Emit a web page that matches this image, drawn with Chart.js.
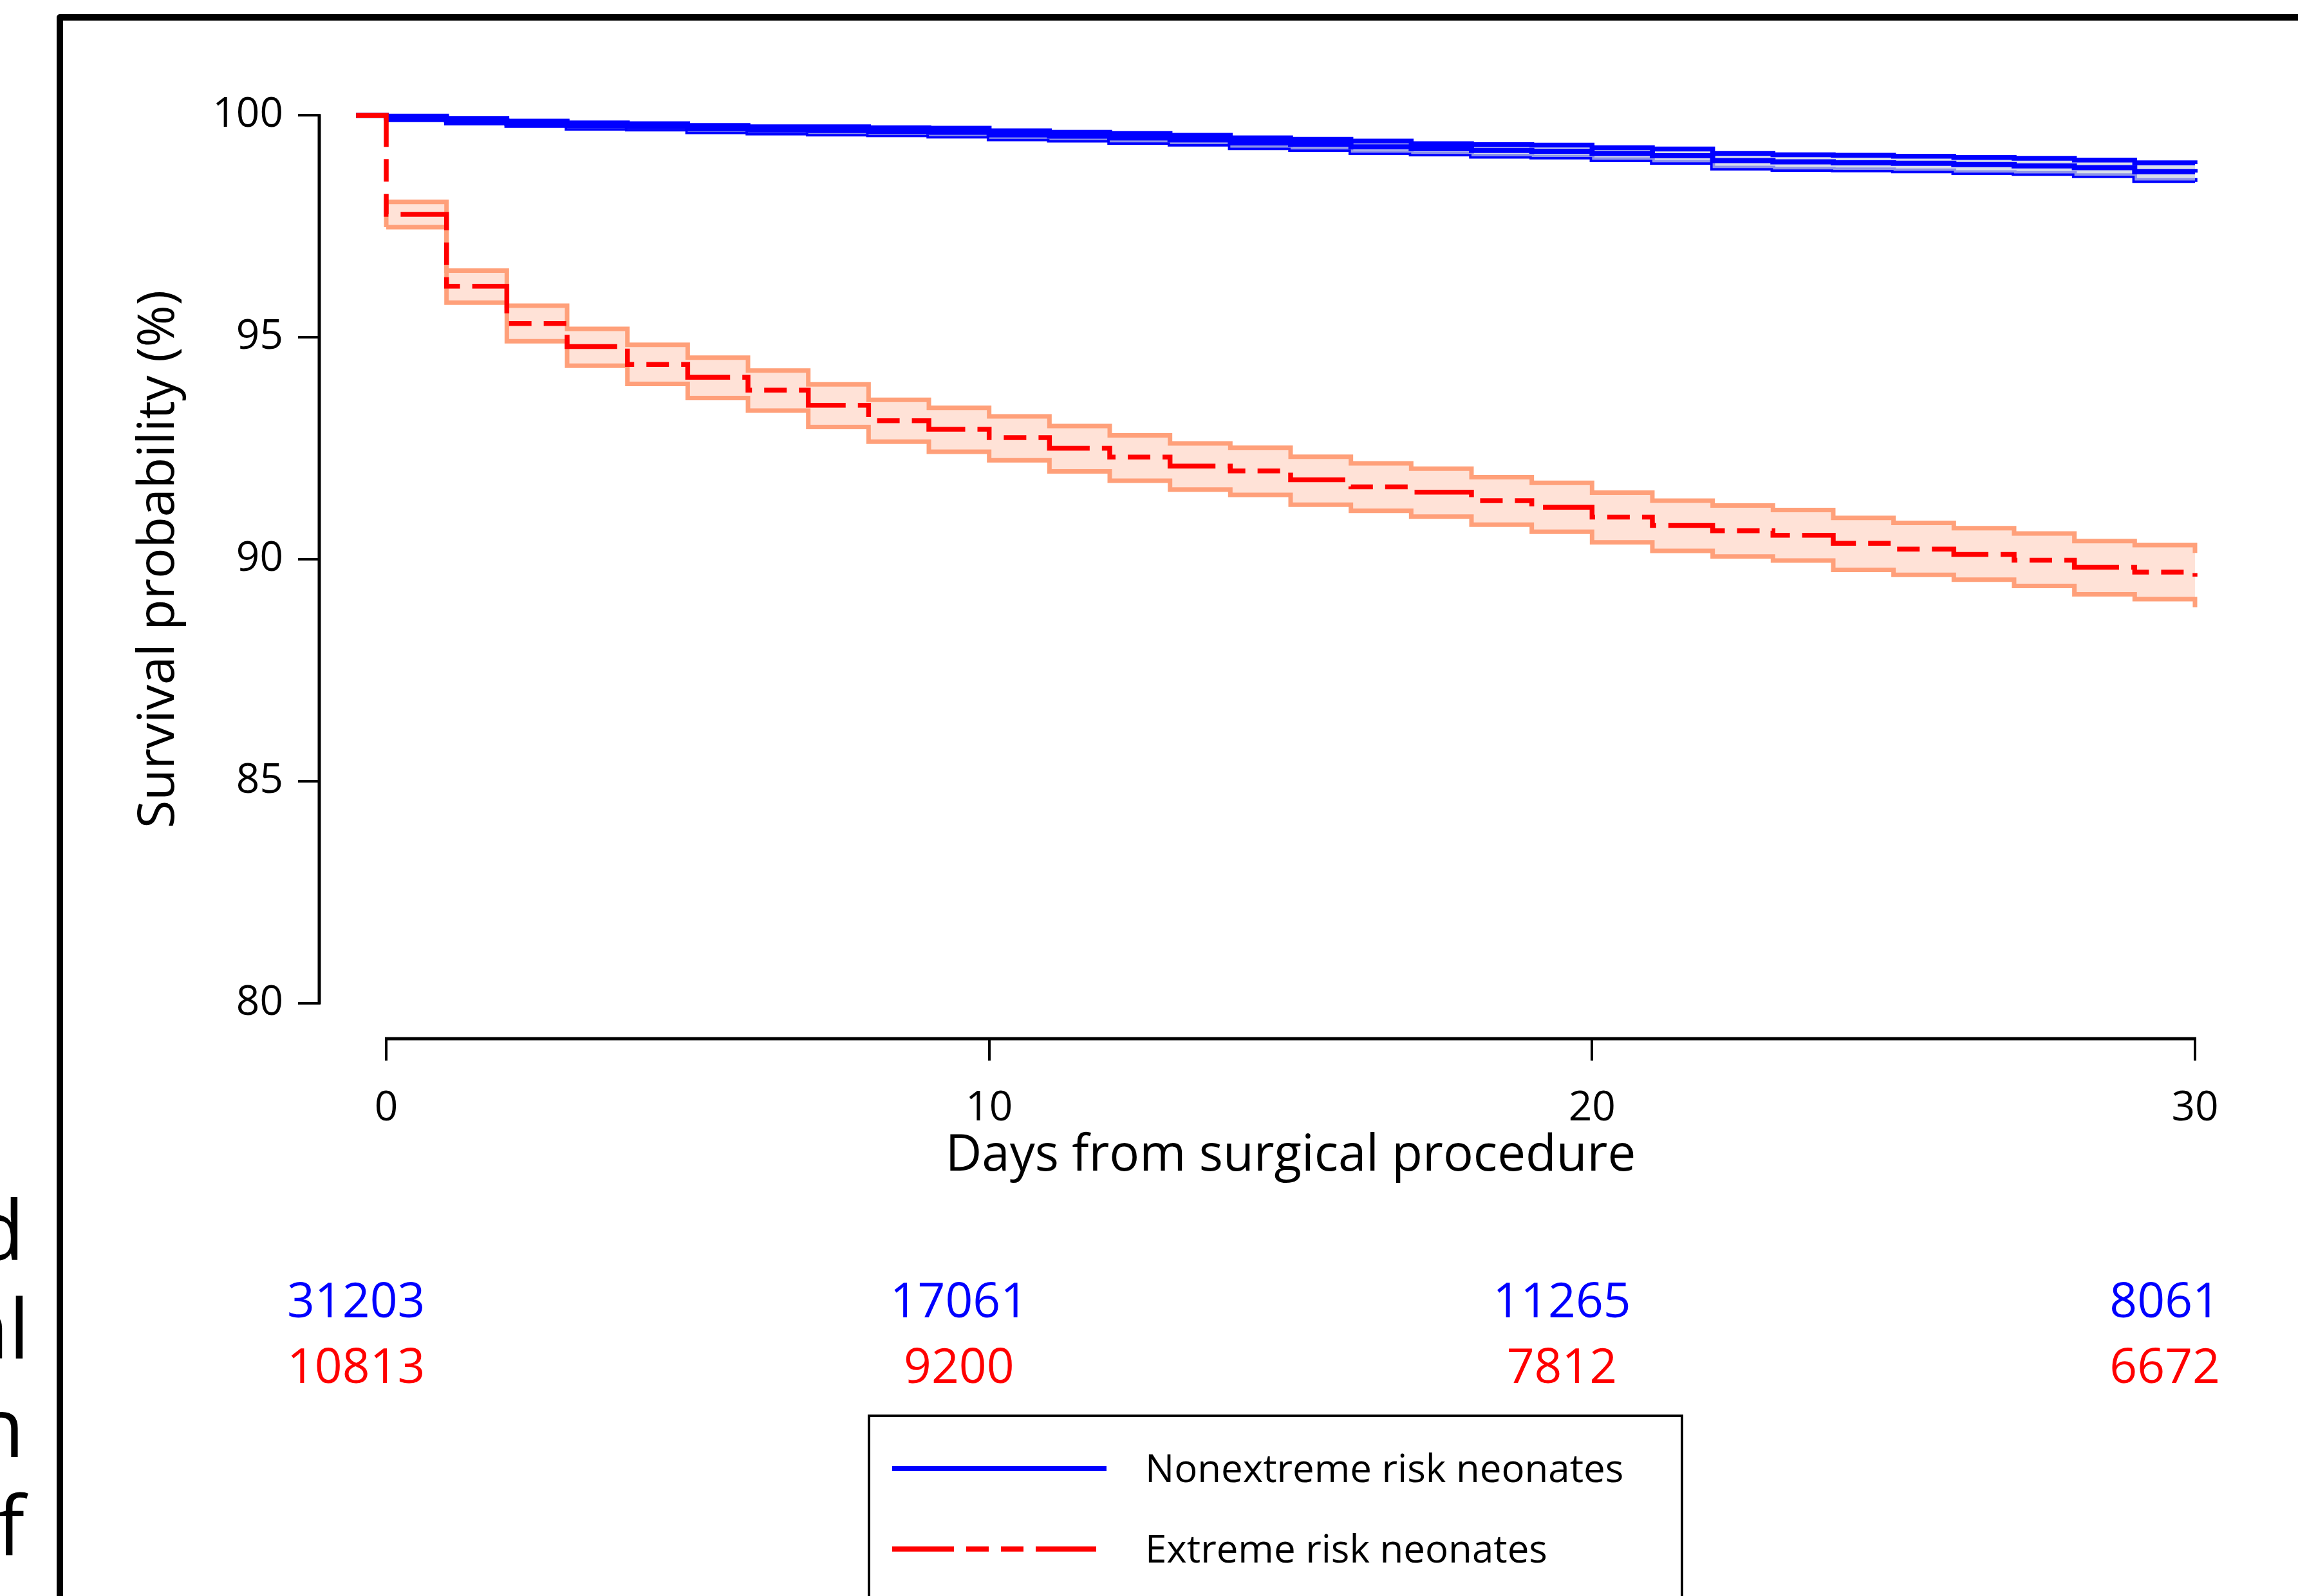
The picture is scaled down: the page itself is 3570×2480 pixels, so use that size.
<!DOCTYPE html>
<html>
<head>
<meta charset="utf-8">
<title>Survival probability</title>
<script src="https://cdn.jsdelivr.net/npm/chart.js@4.4.1/dist/chart.umd.min.js"></script>
<style>
  html, body { margin: 0; padding: 0; background: #fff; }
  #wrap { width: 3570px; height: 2480px; position: relative; }
</style>
</head>
<body>
<div id="wrap"><canvas id="km"></canvas></div>
<script>
// Valeurs (courbes de Kaplan-Meier, pas d'un jour)
const days = [0, 1, 2, 3, 4, 5, 6, 7, 8, 9, 10, 11, 12, 13, 14, 15,
              16, 17, 18, 19, 20, 21, 22, 23, 24, 25, 26, 27, 28, 29, 30];
const startDay = -0.5;
const startValue = 100;

// Nonextreme risk neonates
const blueEst = [99.94, 99.88, 99.82, 99.77, 99.75, 99.70, 99.67, 99.66, 99.64, 99.62, 99.56,
                 99.53, 99.49, 99.45, 99.38, 99.35, 99.29, 99.25, 99.21, 99.19, 99.14,
                 99.09, 98.98, 98.95, 98.93, 98.92, 98.89, 98.86, 98.82, 98.73, 98.71];
const blueUpper = [99.98, 99.93, 99.87, 99.83, 99.81, 99.77, 99.74, 99.74, 99.72, 99.71, 99.65,
                   99.62, 99.59, 99.55, 99.49, 99.46, 99.42, 99.36, 99.34, 99.33, 99.27,
                   99.24, 99.14, 99.11, 99.10, 99.08, 99.05, 99.03, 98.99, 98.93, 98.90];
const blueLower = [99.90, 99.83, 99.77, 99.71, 99.69, 99.63, 99.60, 99.58, 99.56, 99.53, 99.47,
                   99.44, 99.39, 99.35, 99.27, 99.23, 99.16, 99.13, 99.08, 99.06, 99.00,
                   98.94, 98.81, 98.78, 98.77, 98.75, 98.71, 98.69, 98.64, 98.53, 98.50];

// Extreme risk neonates
const redEst = [97.77, 96.15, 95.31, 94.79, 94.39, 94.10, 93.81, 93.47, 93.12, 92.93, 92.74,
                92.50, 92.30, 92.10, 91.99, 91.79, 91.63, 91.51, 91.32, 91.17, 90.95,
                90.76, 90.64, 90.54, 90.36, 90.23, 90.11, 89.98, 89.82, 89.71, 89.61];
const redUpper = [98.05, 96.50, 95.71, 95.19, 94.83, 94.54, 94.25, 93.94, 93.59, 93.41, 93.22,
                  93.00, 92.79, 92.61, 92.51, 92.31, 92.16, 92.04, 91.85, 91.72, 91.50,
                  91.32, 91.21, 91.11, 90.93, 90.82, 90.70, 90.58, 90.41, 90.32, 90.14];
const redLower = [97.48, 95.78, 94.91, 94.36, 93.95, 93.63, 93.35, 92.98, 92.65, 92.42, 92.23,
                  91.98, 91.77, 91.57, 91.45, 91.23, 91.09, 90.96, 90.78, 90.62, 90.38,
                  90.19, 90.06, 89.97, 89.76, 89.65, 89.54, 89.40, 89.21, 89.10, 88.92];

const xTicks = [0, 10, 20, 30];
const yTicks = [80, 85, 90, 95, 100];
const riskBlue = [31203, 17061, 11265, 8061];
const riskRed = [10813, 9200, 7812, 6672];
const legendLabels = ['Nonextreme risk neonates', 'Extreme risk neonates'];
const sideText = ['d', 'al', 'n', 'f'];   // bouts de texte de la colonne voisine

const FONT = '"Open Sans", "DejaVu Sans", sans-serif';
const BLUE = '#0000ff';
const RED = '#ff0000';
const SALMON = '#ffa07a';
const DASH = [96, 19, 35, 19, 35, 19];

// points d'une courbe en escalier
function stepData(values, first) {
  const pts = days.map((d, i) => ({ x: d, y: values[i] }));
  if (first !== undefined) pts.unshift(first);
  return pts;
}

// Bloc des décorations (cadre, axes, effectifs, légende)
const decorations = {
  id: 'decorations',
  afterDraw(chart) {
    const { ctx, chartArea, scales: { x, y } } = chart;
    ctx.save();

    // cadre du panneau
    ctx.strokeStyle = '#000';
    ctx.lineWidth = 10;
    ctx.lineJoin = 'round';
    ctx.beginPath();
    ctx.moveTo(93, 2480);
    ctx.lineTo(93, 27);
    ctx.lineTo(3570, 27);
    ctx.stroke();

    // axes façon R (détachés)
    ctx.lineWidth = 5;
    ctx.lineJoin = 'miter';
    ctx.beginPath();
    ctx.moveTo(chartArea.left - 1, y.getPixelForValue(yTicks[0]) + 2);
    ctx.lineTo(chartArea.left - 1, y.getPixelForValue(yTicks[yTicks.length - 1]) - 2);
    ctx.moveTo(x.getPixelForValue(xTicks[0]) - 2, chartArea.bottom);
    ctx.lineTo(x.getPixelForValue(xTicks[xTicks.length - 1]) + 2, chartArea.bottom);
    ctx.stroke();

    // nombre de sujets à risque
    ctx.font = '75px ' + FONT;
    ctx.textAlign = 'center';
    ctx.textBaseline = 'middle';
    xTicks.forEach((t, i) => {
      const px = x.getPixelForValue(t - 0.5);
      ctx.fillStyle = BLUE;
      ctx.fillText(String(riskBlue[i]), px, 2026);
      ctx.fillStyle = RED;
      ctx.fillText(String(riskRed[i]), px, 2128);
    });

    // légende
    ctx.strokeStyle = '#000';
    ctx.lineWidth = 4;
    ctx.strokeRect(1350, 2200, 1263, 400);
    const rows = [
      { ds: chart.data.datasets[1], y: 2282 },
      { ds: chart.data.datasets[0], y: 2407 }
    ];
    rows.forEach((r, i) => {
      ctx.strokeStyle = r.ds.borderColor;
      ctx.lineWidth = 8;
      ctx.setLineDash(r.ds.borderDash || []);
      ctx.beginPath();
      ctx.moveTo(1386, r.y);
      ctx.lineTo(r.ds.borderDash ? 1703 : 1719, r.y);
      ctx.stroke();
      ctx.setLineDash([]);
      ctx.fillStyle = '#000';
      ctx.font = '60px ' + FONT;
      ctx.textAlign = 'left';
      ctx.textBaseline = 'middle';
      ctx.fillText(legendLabels[i], 1779, r.y + 4);
    });

    // texte coupé à gauche
    ctx.font = '128px ' + FONT;
    ctx.textAlign = 'right';
    ctx.textBaseline = 'alphabetic';
    ctx.fillStyle = '#000';
    const sideX = [38, 46, 38, 38];
    sideText.forEach((s, i) => ctx.fillText(s, sideX[i], 1958 + i * 153));

    ctx.restore();
  }
};

const ctx = document.getElementById('km');

new Chart(ctx, {
  type: 'line',
  data: {
    datasets: [
      { // 0 : estimation, groupe à risque extrême
        data: stepData(redEst, { x: startDay, y: startValue }),
        borderColor: RED, borderWidth: 7.5, borderDash: DASH,
        stepped: 'before', pointRadius: 0, fill: false, order: 0
      },
      { // 1 : estimation, groupe non extrême
        data: stepData(blueEst, { x: startDay, y: startValue }),
        borderColor: BLUE, borderWidth: 8,
        stepped: 'before', pointRadius: 0, fill: false, order: 1
      },
      { // 2 : IC sup bleu
        data: stepData(blueUpper, { x: days[0], y: blueLower[0] }),
        borderColor: BLUE, borderWidth: 7.5,
        backgroundColor: 'rgba(200, 208, 225, 0.7)',
        stepped: 'before', pointRadius: 0, fill: '+1', order: 2
      },
      { // 3 : IC inf bleu
        data: stepData(blueLower),
        borderColor: BLUE, borderWidth: 7.5,
        stepped: 'before', pointRadius: 0, fill: false, order: 3
      },
      { // 4 : IC sup rouge
        data: stepData(redUpper, { x: days[0], y: redLower[0] }),
        borderColor: SALMON, borderWidth: 7,
        backgroundColor: 'rgba(255, 160, 122, 0.3)',
        stepped: 'before', pointRadius: 0, fill: '+1', order: 4
      },
      { // 5 : IC inf rouge
        data: stepData(redLower),
        borderColor: SALMON, borderWidth: 7,
        stepped: 'before', pointRadius: 0, fill: false, order: 5
      }
    ]
  },
  options: {
    responsive: true,
    maintainAspectRatio: false,
    animation: false,
    events: [],
    layout: { padding: { left: 0, top: 124, right: 57, bottom: 0 } },
    plugins: {
      legend: { display: false },
      tooltip: { enabled: false }
    },
    scales: {
      x: {
        type: 'linear',
        min: -1.1,
        max: 31.1,
        afterBuildTicks: (s) => { s.ticks = xTicks.map(v => ({ value: v })); },
        afterFit: (s) => { s.height = 866; },
        border: { display: false },
        grid: { drawOnChartArea: false, color: '#000', lineWidth: 4, tickLength: 34 },
        ticks: { color: '#000', padding: 36, maxRotation: 0, font: { family: FONT, size: 64 } },
        title: {
          display: true,
          text: 'Days from surgical procedure',
          color: '#000',
          font: { family: FONT, size: 78 },
          padding: { top: 0, bottom: 636 }
        }
      },
      y: {
        min: 79.2,
        max: 100.8,
        afterBuildTicks: (s) => { s.ticks = yTicks.map(v => ({ value: v })); },
        afterFit: (s) => { s.width = 497; },
        border: { display: false },
        grid: { drawOnChartArea: false, color: '#000', lineWidth: 4, tickLength: 34 },
        ticks: { color: '#000', padding: 23, font: { family: FONT, size: 64 } },
        title: {
          display: true,
          text: 'Survival probability (%)',
          color: '#000',
          font: { family: FONT, size: 79 },
          padding: { top: 200, bottom: 0 }
        }
      }
    }
  },
  plugins: [decorations]
});
</script>
</body>
</html>
